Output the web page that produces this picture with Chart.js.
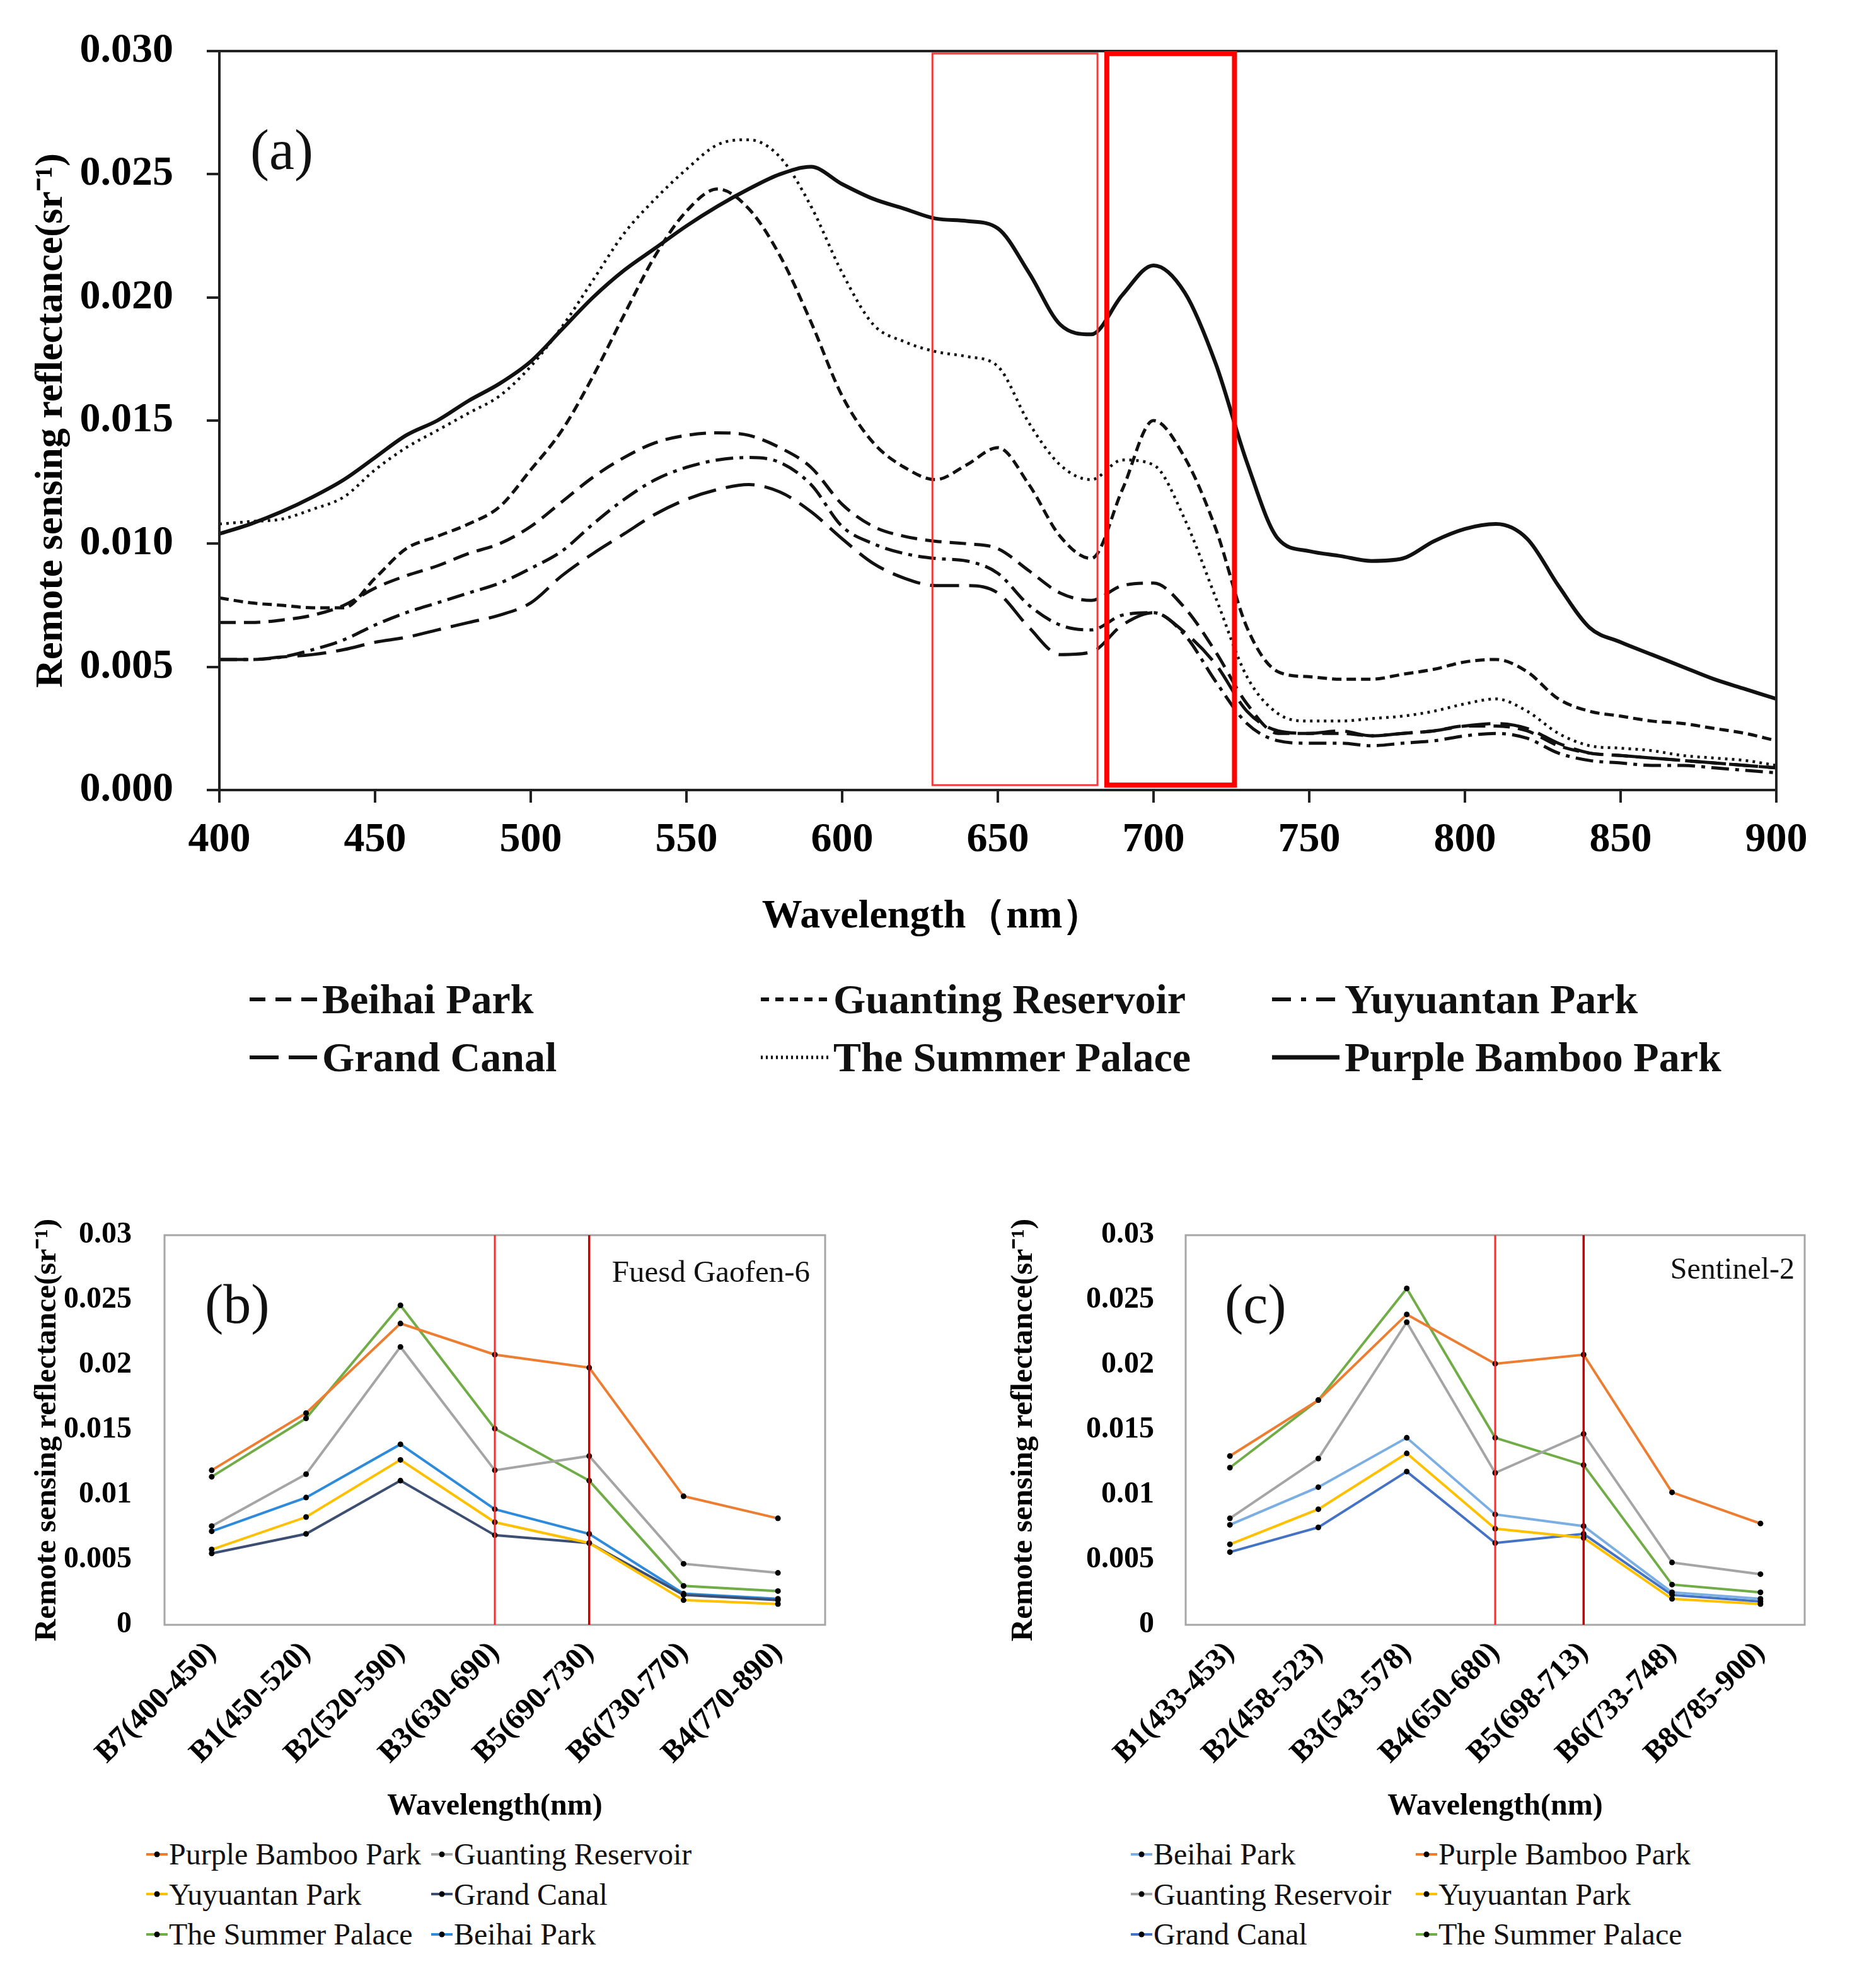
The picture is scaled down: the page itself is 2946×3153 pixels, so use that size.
<!DOCTYPE html>
<html>
<head>
<meta charset="utf-8">
<script src="https://cdn.jsdelivr.net/npm/chart.js@4.4.1/dist/chart.umd.min.js"></script>
<style>
  body { margin: 0; background: #fff; width: 2946px; height: 3153px; position: relative; overflow: hidden; font-family: 'Liberation Serif', 'Times New Roman', serif; }
  canvas { position: absolute; }
  .tag { position: absolute; line-height: 1; white-space: nowrap; color: #111; }
  .legend { position: absolute; display: grid; color: #111; }
  .legend .item { display: flex; align-items: center; white-space: nowrap; }
  .legend svg { flex: none; }
</style>
</head>
<body>
<canvas id="chartA" width="2946" height="1500" style="left:0px;top:0px"></canvas>
<canvas id="chartB" width="1420" height="1000" style="left:0px;top:1900px"></canvas>
<canvas id="chartC" width="1446" height="1000" style="left:1500px;top:1900px"></canvas>

<div class="tag" style="left:397px;top:193px;font-size:90px">(a)</div>
<div class="tag" style="left:325px;top:2025px;font-size:88px">(b)</div>
<div class="tag" style="right:1661px;top:1992px;font-size:49px">Fuesd Gaofen-6</div>
<div class="tag" style="left:1943px;top:2025px;font-size:88px">(c)</div>
<div class="tag" style="right:99px;top:1988px;font-size:48px">Sentinel-2</div>

<div id="legendA" class="legend" style="left:396px;top:1539px;grid-template-columns:811px 811px 811px;grid-auto-rows:92px;font-size:66px;font-weight:bold"></div>
<div id="legendB" class="legend" style="left:232px;top:2909px;grid-template-columns:452px 452px;grid-auto-rows:63.5px;font-size:48px"></div>
<div id="legendC" class="legend" style="left:1794px;top:2909px;grid-template-columns:452px 452px;grid-auto-rows:63.5px;font-size:48px"></div>

<script>
// ---- (a) measured spectra, 400-900 nm every 10 nm ----
const wavelengths = [400,410,420,430,440,450,460,470,480,490,
                     500,510,520,530,540,550,560,570,580,590,
                     600,610,620,630,640,650,660,670,680,690,
                     700,710,720,730,740,750,760,770,780,790,
                     800,810,820,830,840,850,860,870,880,890,900];

const beihaiPark = [0.0068,0.0068,0.0069,0.0071,0.0075,0.0082,0.0087,0.0091,0.0096,0.0100,
                    0.0107,0.0117,0.0127,0.0135,0.0141,0.0144,0.0145,0.0144,0.0139,0.0131,
                    0.0116,0.0107,0.0103,0.0101,0.0100,0.0098,0.0089,0.0080,0.0077,0.0083,
                    0.0084,0.0074,0.0056,0.0035,0.0023,0.0023,0.0023,0.0022,0.0023,0.0024,
                    0.0026,0.0026,0.0024,0.0018,0.0015,0.0014,0.0013,0.0012,0.0011,0.0010,0.0009];

const guantingReservoir = [0.0078,0.0076,0.0075,0.0074,0.0074,0.0086,0.0098,0.0103,0.0108,0.0115,
                           0.0130,0.0146,0.0168,0.0193,0.0217,0.0235,0.0244,0.0236,0.0217,0.0190,
                           0.0160,0.0141,0.0131,0.0126,0.0132,0.0139,0.0124,0.0103,0.0094,0.0122,
                           0.0150,0.0135,0.0106,0.0066,0.0048,0.0046,0.0045,0.0045,0.0047,0.0049,
                           0.0052,0.0053,0.0048,0.0037,0.0032,0.0030,0.0028,0.0027,0.0025,0.0023,0.0020];

const yuyuantanPark = [0.0053,0.0053,0.0054,0.0057,0.0061,0.0067,0.0072,0.0076,0.0080,0.0084,
                       0.0090,0.0097,0.0108,0.0118,0.0126,0.0131,0.0134,0.0135,0.0133,0.0124,
                       0.0107,0.0100,0.0096,0.0094,0.0093,0.0088,0.0075,0.0067,0.0065,0.0071,
                       0.0072,0.0063,0.0044,0.0027,0.0020,0.0019,0.0019,0.0018,0.0019,0.0020,
                       0.0022,0.0023,0.0021,0.0015,0.0012,0.0011,0.0010,0.0010,0.0009,0.0008,0.0007];

const grandCanal = [0.0053,0.0053,0.0054,0.0055,0.0057,0.0060,0.0062,0.0065,0.0068,0.0071,
                    0.0076,0.0087,0.0096,0.0104,0.0112,0.0118,0.0122,0.0124,0.0121,0.0113,
                    0.0102,0.0092,0.0086,0.0083,0.0083,0.0080,0.0066,0.0055,0.0056,0.0067,
                    0.0072,0.0064,0.0051,0.0032,0.0024,0.0023,0.0024,0.0022,0.0023,0.0024,
                    0.0026,0.0027,0.0025,0.0019,0.0015,0.0014,0.0013,0.0012,0.0011,0.0010,0.0009];

const summerPalace = [0.0108,0.0109,0.0110,0.0114,0.0119,0.0130,0.0139,0.0146,0.0153,0.0160,
                      0.0172,0.0188,0.0207,0.0226,0.0240,0.0252,0.0262,0.0264,0.0257,0.0237,
                      0.0210,0.0189,0.0182,0.0178,0.0176,0.0172,0.0149,0.0132,0.0126,0.0134,
                      0.0132,0.0110,0.0078,0.0046,0.0031,0.0028,0.0028,0.0029,0.0030,0.0032,
                      0.0035,0.0037,0.0032,0.0023,0.0018,0.0017,0.0016,0.0014,0.0013,0.0012,0.0010];

const purpleBambooPark = [0.0104,0.0108,0.0113,0.0119,0.0126,0.0135,0.0144,0.0150,0.0158,0.0165,
                          0.0174,0.0187,0.0200,0.0211,0.0220,0.0229,0.0237,0.0244,0.0250,0.0253,
                          0.0246,0.0240,0.0236,0.0232,0.0231,0.0228,0.0210,0.0189,0.0185,0.0201,
                          0.0213,0.0202,0.0173,0.0133,0.0102,0.0097,0.0095,0.0093,0.0094,0.0101,
                          0.0106,0.0108,0.0102,0.0083,0.0066,0.0060,0.0055,0.0050,0.0045,0.0041,0.0037];

const spectrumTicksX = [400,450,500,550,600,650,700,750,800,850,900];
const bandBoxes = [[629, 682], [685, 726]];   // nm ranges marked in red

// ---- (b) Fused Gaofen-6 bands ----
const gf6Bands = ['B7(400-450)','B1(450-520)','B2(520-590)','B3(630-690)','B5(690-730)','B6(730-770)','B4(770-890)'];
const gf6Purple    = [0.0119,0.0163,0.0232,0.0208,0.0198,0.0099,0.0082];
const gf6Guanting  = [0.0076,0.0116,0.0214,0.0119,0.0130,0.0047,0.0040];
const gf6Yuyuantan = [0.0058,0.0083,0.0127,0.0079,0.0063,0.0019,0.0016];
const gf6Canal     = [0.0055,0.0070,0.0111,0.0069,0.0063,0.0023,0.0019];
const gf6Summer    = [0.0114,0.0159,0.0246,0.0151,0.0111,0.0030,0.0026];
const gf6Beihai    = [0.0072,0.0098,0.0139,0.0089,0.0070,0.0024,0.0020];
const gf6RedBands  = ['B3(630-690)','B5(690-730)'];

// ---- (c) Sentinel-2 bands ----
const s2Bands = ['B1(433-453)','B2(458-523)','B3(543-578)','B4(650-680)','B5(698-713)','B6(733-748)','B8(785-900)'];
const s2Purple    = [0.0130,0.0173,0.0239,0.0201,0.0208,0.0102,0.0078];
const s2Guanting  = [0.0082,0.0128,0.0233,0.0117,0.0147,0.0048,0.0039];
const s2Yuyuantan = [0.0062,0.0089,0.0132,0.0074,0.0067,0.0020,0.0016];
const s2Canal     = [0.0056,0.0075,0.0118,0.0063,0.0070,0.0023,0.0018];
const s2Summer    = [0.0121,0.0173,0.0259,0.0144,0.0123,0.0031,0.0025];
const s2Beihai    = [0.0077,0.0106,0.0144,0.0085,0.0076,0.0025,0.0020];
const s2RedBands  = ['B4(650-680)','B5(698-713)'];

const yTitle = 'Remote sensing reflectance(sr\u207B\u00B9)';

// styles
const spectrumStyle = {
  'Beihai Park':        { dash: [26, 13],        width: 5,   legendDash: '25 16' },
  'Guanting Reservoir': { dash: [15, 8],         width: 5,   legendDash: '13 10' },
  'Yuyuantan Park':     { dash: [28, 10, 6, 10], width: 5,   legendDash: '30 16 8 16' },
  'Grand Canal':        { dash: [46, 16],        width: 5,   legendDash: '46 16' },
  'The Summer Palace':  { dash: [4, 7],          width: 4.5, legendDash: '3 5' },
  'Purple Bamboo Park': { dash: [],              width: 6,   legendDash: '' },
};
const gf6Colors = { 'Purple Bamboo Park': '#ED7D31', 'Guanting Reservoir': '#A5A5A5', 'Yuyuantan Park': '#FFC000',
                    'Grand Canal': '#3C4F72', 'The Summer Palace': '#70AD47', 'Beihai Park': '#2E8BDB' };
const s2Colors  = { 'Beihai Park': '#7BAFE3', 'Purple Bamboo Park': '#ED7D31', 'Guanting Reservoir': '#A5A5A5',
                    'Yuyuantan Park': '#FFC000', 'Grand Canal': '#4472C4', 'The Summer Palace': '#70AD47' };

Chart.defaults.font.family = "'Liberation Serif', 'Times New Roman', serif";
Chart.defaults.color = '#000';

// y axis: fixed width, and keep tick padding from pushing the plot area down
function fixYAxis(width) {
  return s => { s.width = width; s.paddingTop = 0; s.paddingBottom = 0; };
}

const framePlugin = {
  id: 'frame',
  afterDatasetsDraw(chart, args, opts) {
    const { ctx, chartArea: a } = chart;
    ctx.save();
    ctx.strokeStyle = opts.color;
    ctx.lineWidth = opts.width;
    ctx.strokeRect(a.left, a.top, a.right - a.left, a.bottom - a.top);
    ctx.restore();
  }
};

const redMarksPlugin = {
  id: 'redMarks',
  afterDatasetsDraw(chart, args, opts) {
    const { ctx, chartArea: a, scales } = chart;
    ctx.save();
    (opts.boxes || []).forEach((b, i) => {
      const x1 = scales.x.getPixelForValue(b[0]);
      const x2 = scales.x.getPixelForValue(b[1]);
      const y1 = scales.y.getPixelForValue(0.0299);
      const y2 = scales.y.getPixelForValue(0.0002);
      ctx.strokeStyle = opts.colors[i];
      ctx.lineWidth = opts.widths[i];
      ctx.strokeRect(x1, y1, x2 - x1, y2 - y1);
    });
    (opts.lines || []).forEach((cat, i) => {
      const x = scales.x.getPixelForValue(scales.x.getLabels().indexOf(cat));
      ctx.strokeStyle = opts.colors[i];
      ctx.lineWidth = opts.widths[i];
      ctx.beginPath();
      ctx.moveTo(x, a.top);
      ctx.lineTo(x, a.bottom);
      ctx.stroke();
    });
    ctx.restore();
  }
};

// ---- chart (a) ----
const spectra = [
  ['Beihai Park', beihaiPark],
  ['Guanting Reservoir', guantingReservoir],
  ['Yuyuantan Park', yuyuantanPark],
  ['Grand Canal', grandCanal],
  ['The Summer Palace', summerPalace],
  ['Purple Bamboo Park', purpleBambooPark],
];

new Chart(document.getElementById('chartA'), {
  type: 'line',
  data: {
    datasets: spectra.map(([name, values]) => ({
      label: name,
      data: wavelengths.map((w, i) => ({ x: w, y: values[i] })),
      borderColor: '#111',
      borderWidth: spectrumStyle[name].width,
      borderDash: spectrumStyle[name].dash,
      pointRadius: 0,
      cubicInterpolationMode: 'monotone',
      fill: false,
    }))
  },
  options: {
    responsive: false,
    animation: false,
    devicePixelRatio: 1,
    layout: { padding: { top: 81, right: 128, left: 0, bottom: 0 } },
    plugins: {
      legend: { display: false },
      tooltip: { enabled: false },
      frame: { color: '#222', width: 4 },
      redMarks: { boxes: bandBoxes, colors: ['#F03A3A', '#FF0000'], widths: [3, 8] },
    },
    scales: {
      x: {
        type: 'linear', min: 400, max: 900,
        afterBuildTicks: s => { s.ticks = spectrumTicksX.map(v => ({ value: v })); },
        ticks: { padding: 20, maxRotation: 0, color: '#000', font: { size: 66, weight: 'bold' } },
        grid: { drawOnChartArea: false, drawTicks: true, tickLength: 20, color: '#222', lineWidth: 4 },
        border: { display: false },
        title: { display: true, text: 'Wavelength（nm）\u3000\u3000\u3000 ', color: '#000',
                 font: { size: 64, weight: 'bold' }, padding: { top: 0, bottom: 7 } },
        afterFit: s => { s.height = 247; }
      },
      y: {
        min: 0, max: 0.03,
        ticks: { stepSize: 0.005, padding: 53, color: '#000', font: { size: 66, weight: 'bold' },
                 callback: v => v.toFixed(3) },
        grid: { drawOnChartArea: false, drawTicks: true, tickLength: 20, color: '#222', lineWidth: 4 },
        border: { display: false },
        title: { display: true, text: yTitle, color: '#000', font: { size: 62, weight: 'bold' },
                 padding: { top: 45, bottom: 0 } },
        afterFit: fixYAxis(348)
      }
    }
  },
  plugins: [framePlugin, redMarksPlugin]
});

// ---- charts (b) and (c) ----
function bandChart(id, bands, series, colors, redBands, geo) {
  return new Chart(document.getElementById(id), {
    type: 'line',
    data: {
      labels: bands,
      datasets: series.map(([name, values]) => ({
        label: name,
        data: values,
        borderColor: colors[name],
        borderWidth: 4,
        pointRadius: 4.5,
        pointBackgroundColor: '#000',
        pointBorderWidth: 0,
        tension: 0,
        fill: false,
      }))
    },
    options: {
      responsive: false,
      animation: false,
      devicePixelRatio: 1,
      layout: { padding: { top: 59, right: geo.padRight, left: 0, bottom: 0 } },
      plugins: {
        legend: { display: false },
        tooltip: { enabled: false },
        frame: { color: '#A6A6A6', width: 3 },
        redMarks: { lines: redBands, colors: ['#FF2A2A', '#C80000'], widths: [3, 3.5] },
      },
      scales: {
        x: {
          offset: true,
          ticks: { autoSkip: false, minRotation: 45, maxRotation: 45, padding: 8, color: '#000',
                   font: { size: 48, weight: 'bold' } },
          grid: { display: false },
          border: { display: false },
          title: { display: true, text: 'Wavelength(nm)', color: '#000', font: { size: 48, weight: 'bold' },
                   padding: { top: 0, bottom: 6 } },
          afterFit: s => { s.height = geo.xHeight; }
        },
        y: {
          min: 0, max: 0.03,
          ticks: { stepSize: 0.005, padding: geo.tickPad, color: '#000', font: { size: 48, weight: 'bold' },
                   callback: v => String(+v.toFixed(3)) },
          grid: { display: false },
          border: { display: false },
          title: { display: true, text: yTitle, color: '#000', font: { size: 49, weight: 'bold' },
                   padding: { top: geo.titlePad, bottom: 0 } },
          afterFit: fixYAxis(geo.yWidth)
        }
      }
    },
    plugins: [framePlugin, redMarksPlugin]
  });
}

bandChart('chartB', gf6Bands, [
  ['Purple Bamboo Park', gf6Purple],
  ['Guanting Reservoir', gf6Guanting],
  ['Yuyuantan Park', gf6Yuyuantan],
  ['Grand Canal', gf6Canal],
  ['The Summer Palace', gf6Summer],
  ['Beihai Park', gf6Beihai],
], gf6Colors, gf6RedBands, { padRight: 111, xHeight: 323, yWidth: 261, tickPad: 44, titlePad: 46 });

bandChart('chartC', s2Bands, [
  ['Beihai Park', s2Beihai],
  ['Purple Bamboo Park', s2Purple],
  ['Guanting Reservoir', s2Guanting],
  ['Yuyuantan Park', s2Yuyuantan],
  ['Grand Canal', s2Canal],
  ['The Summer Palace', s2Summer],
], s2Colors, s2RedBands, { padRight: 83, xHeight: 323, yWidth: 381, tickPad: 42, titlePad: 95 });

// ---- HTML legends ----
function spectrumLegend(el) {
  el.innerHTML = spectra.map(([name]) => {
    const st = spectrumStyle[name];
    return `<div class="item"><svg width="107" height="14"><line x1="0" y1="7" x2="107" y2="7" stroke="#111"
      stroke-width="${st.width + 1}" stroke-dasharray="${st.legendDash}"/></svg>
      <span style="margin-left:8px">${name}</span></div>`;
  }).join('');
}

function bandLegend(el, names, colors) {
  el.innerHTML = names.map(name => `<div class="item"><svg width="34" height="12">
      <line x1="0" y1="6" x2="34" y2="6" stroke="${colors[name]}" stroke-width="4"/>
      <circle cx="17" cy="6" r="4.5" fill="#000"/></svg><span style="margin-left:2px">${name}</span></div>`).join('');
}

spectrumLegend(document.getElementById('legendA'));
bandLegend(document.getElementById('legendB'),
  ['Purple Bamboo Park', 'Guanting Reservoir', 'Yuyuantan Park', 'Grand Canal', 'The Summer Palace', 'Beihai Park'], gf6Colors);
bandLegend(document.getElementById('legendC'),
  ['Beihai Park', 'Purple Bamboo Park', 'Guanting Reservoir', 'Yuyuantan Park', 'Grand Canal', 'The Summer Palace'], s2Colors);
</script>
</body>
</html>
